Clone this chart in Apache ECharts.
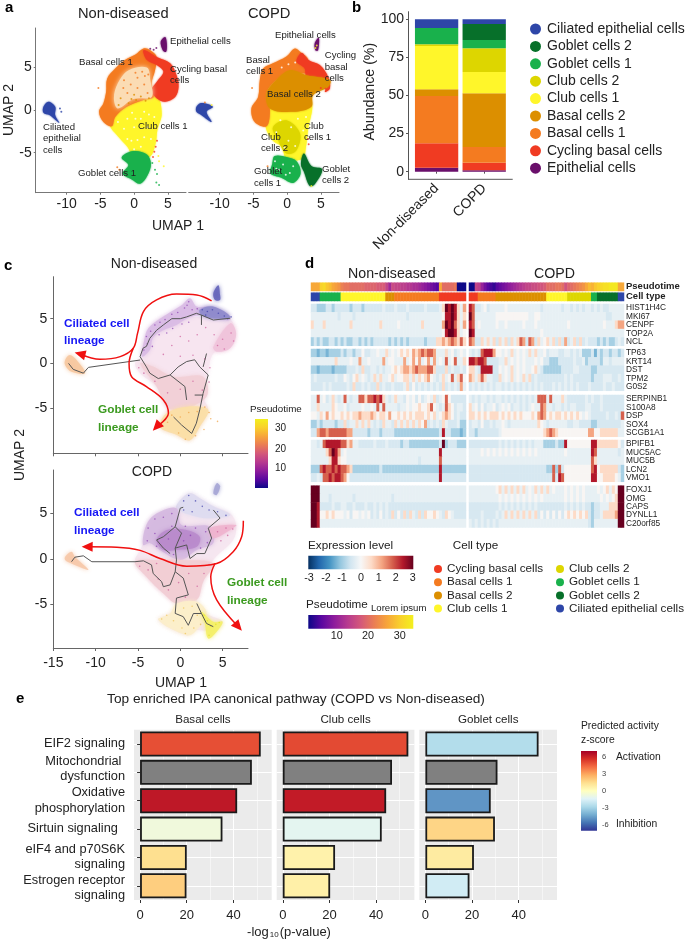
<!DOCTYPE html>
<html>
<head>
<meta charset="utf-8">
<style>html,body{margin:0;background:#fff}#main{width:685px;height:941px}</style>
<script src="https://cdn.jsdelivr.net/npm/echarts@6/dist/echarts.min.js"></script>
</head>
<body>
<div id="main"></div>
<script>
var ff = '"Liberation Sans", Arial, sans-serif';

// cell types, bottom of the stack first
var cellTypes = ['Epithelial cells', 'Cycling basal cells', 'Basal cells 1', 'Basal cells 2', 'Club cells 1', 'Club cells 2', 'Goblet cells 1', 'Goblet cells 2', 'Ciliated epithelial cells'];
var cellColors = ['#6a0f6b', '#f03b22', '#f47b20', '#dc8f00', '#fff62a', '#ddd600', '#19b14c', '#07702a', '#2e46a8'];

// panel b
var abundanceGroups = ['Non-diseased', 'COPD'];
var abundanceND = [2.6, 16, 31, 4.5, 28.4, 1.1, 10.7, 0, 5.7];
var abundanceCOPD = [0.9, 5, 10.3, 35.3, 14, 15.5, 5.5, 10.4, 3.1];

// panel a, cluster outlines in UMAP units
var aNDClusters = [
    [4, [[-3.6,-1.75],[-3.2,.4],[-1.1,1.2],[1.4,1.8],[3.35,1.8],[4.1,-.4],[3.45,-2.35],[3.2,-3.9],[2.3,-5.5],[-.1,-5.4],[-1,-4.3],[-2.3,-3.15]]],
    [6, [[-1.85,-5.55],[-.1,-4.8],[1.9,-5.2],[2.5,-6.3],[2,-7.65],[.9,-8.65],[-.35,-8.15],[-1.7,-7.45],[-.85,-6.45]]],
    [2, [[1.4,7.25],[.15,6.5],[-1.35,5.9],[-2.8,4.9],[-4,3.7],[-4.15,2.15],[-4.55,.8],[-5.2,-.2],[-4.55,-1.4],[-3.3,-1.9],[-2.8,-.8],[-1.1,.4],[1.4,1.2],[2.9,1.55],[2.6,3.15],[3.1,4.7],[3.35,6.25],[2.4,7.05]]],
    [1, [[1.4,7.05],[3.35,6.25],[5.35,5.5],[6.3,4.1],[6.6,2.75],[6.1,1.55],[4.6,1],[3.35,1.4],[2.6,2.35],[3.35,3.3],[4.35,4.5],[3.35,5.3],[1.9,5.9]]],
    [8, [[-13.45,.4],[-12.7,1],[-11.7,.4],[-11.7,-.6],[-11.1,-1.5],[-12.5,-.6],[-13.45,-.3]]],
    [0, [[3.95,8.05],[4.6,8.6],[4.85,7.85],[4.75,6.85],[4.25,7.05]]]
];
var aNDSparse = [[-2.4,3.2],[-.8,4.7],[1.9,5],[2.4,3.5],[2.6,1.55],[-.1,1.3],[-2.4,.2],[-3,1.4]];
var aCOPDClusters = [
    [4, [[-3.2,-1.9],[-2.9,.6],[.9,.8],[3.6,.9],[3.1,-2.35],[2.8,-4.3],[2.3,-5.7],[-.1,-5.7],[-.8,-4.3],[-2.2,-3.5]]],
    [5, [[-2.1,-2],[-.1,-1.2],[1.9,-2.7],[1.4,-4.7],[-.1,-5.1],[-1.35,-3.5]]],
    [6, [[-1.85,-5.4],[-.1,-5.5],[1.4,-6],[2,-7.45],[.9,-8.55],[-.85,-7.95],[-2.45,-7.45],[-2.2,-6.3]]],
    [7, [[2.5,-5.1],[3.6,-6.55],[5.2,-6.95],[4.1,-8.7],[3.35,-8.9],[2.5,-7.25],[2.05,-6.35]]],
    [2, [[1.15,7.25],[-.1,6.3],[-2.1,5.5],[-3.55,4.9],[-4.05,3.55],[-4.3,1.55],[-5.3,.2],[-4.8,-1.4],[-3.05,-1.9],[-2.55,0],[-3.05,2],[-1.6,3.55],[.4,4.4],[2.9,4.4],[3.15,5.9],[2.15,6.7]]],
    [1, [[2.15,6.7],[3.15,5.9],[4.85,5.3],[6.1,3.9],[6.35,2.55],[5.6,2.15],[6.1,3.35],[2.9,3.9],[2.6,4.9],[1.4,5.7]]],
    [3, [[-3.05,2],[-1.6,3.55],[.4,4.7],[2.9,4.1],[6.35,3.55],[6.1,2.75],[3.85,1.75],[3.6,.4],[.9,-.2],[-2.55,.2]]],
    [8, [[-13.45,.4],[-12.7,.85],[-11,.4],[-11.95,-.2],[-11.2,-1.4],[-12.7,-.6],[-13.45,-.2]]],
    [0, [[4.1,7.85],[4.7,8.5],[4.6,7.05],[4.2,7.05]]]
];
// single cells seen apart from the dense mass [x, y, type], type 9 is a gap
var aNDStray = [[-5.3,2.6,2],[3.4,-3.6,1],[3.2,-4.3,1],[3,-4.9,1],[2.8,-5.5,1],[3.6,-5.4,4],[3.7,-6,4],[4.4,-6.6,4],[3.4,-7.5,6],[3.3,-8.5,6],[3.7,-8.8,6],[3.1,-7,6],[2.7,-6.2,6],[-2.5,-6.7,2],[-2.2,-7,2],[2.4,7.2,0],[2.9,7.1,0],[3.3,7.3,0],[-11,.2,8],[-10.8,-.2,8],
    [-1.5,3.5,2],[-.5,3,2],[.5,3.8,2],[1.5,3,2],[2,2,2],[-1,2,2],[0,1.8,3],[1,1.6,3],[-2,1.4,3],[-2.3,.6,3],[.2,4.4,2],[1.2,4.5,2],[2.1,4.2,2],[-.8,.8,3],[.5,2.6,2],[1.6,4,2],[-1.6,2.6,2],[2.2,1.4,3],[.3,1.2,3],[-.4,1.3,3],[1.7,1.1,3],
    [-1,-1,9],[0,-2,9],[1,-1,9],[2,-2,9],[.5,-3.5,9],[1.5,-3.2,9],[-1.5,-2.2,9],[2.2,-.5,9],[-.3,-.3,9],[1,-4.3,9],[3,-.8,9],[-2.4,-1.4,9],[.2,-1,9],[1.5,-.2,9],[2.5,-3.4,9],[-.4,-3.6,9],[0,-4.6,9],[-1,-3.4,9]];
var aCOPDStray = [[-5.2,2.6,2],[3.2,-4,1],[3.1,-3.4,1],[5.7,2.5,1],[5,2.6,1],[4.4,7.6,4],[4.2,7.3,4],[-2.9,-6.6,2],[-12.2,.9,2],[-11.2,.6,4],[3.6,-8.9,4],
    [-1,-1.2,9],[.6,-2,9],[1.6,-1,9],[2.4,-2.4,9],[.2,-3.6,9],[1.2,-4.2,9],[-1.6,-2.6,9],[2.8,-.8,9],[-.4,-4.4,9],[-1.2,-7,9],[-.6,-6.4,9],[-1.8,-6,9],[.4,-7.4,9],[.9,-6.6,9],[-.2,-7.6,9],[-1.6,-6.9,9],[-.3,6,2],[1,6.5,2],[-2,5,2],[-3,4,2],[1.2,5.6,9],[-.8,5,9],[.2,5.4,9]];

// panel c, density zones in UMAP units [colour, points]
var cNDZones = [
    ['#f6e4ef', [[-4.3,2.4],[-2.4,5],[1.15,5.2],[5.9,4.85],[6.45,3.35],[5.9,1.85],[3.9,1.1],[3.3,-1.1],[2.7,-3.75],[3.3,-5.2],[2.3,-7.1],[1.15,-8.6],[-.45,-8],[-2.4,-7.1],[-1.6,-5.2],[-2.8,-2.6],[-4.75,-1.1],[-5.35,0],[-4.55,.75]]],
    ['#d9bbe4', [[1.15,7.3],[.15,6.5],[-.8,5.95],[-2.4,5],[-3.8,3.9],[-4.3,2.4],[-4.55,.75],[-3.6,1.5],[-3.2,2.9],[-2,3.7],[-.45,4.3],[.75,5],[2.3,5.4],[3.9,5.2],[5.9,4.85],[5.5,5.6],[3.5,6.35],[1.95,6.35]]],
    ['#8f8bcc', [[2.3,6],[3.9,6.35],[5.9,5.2],[3.9,5],[2.5,5.4]]],
    ['#efc3da', [[3.9,1.85],[5.9,4.5],[6.6,3.35],[5.9,1.7],[4.3,1.3]]],
    ['#f2cfd6', [[-4.75,0],[-3.2,-.35],[-.8,-1.5],[2.7,-1.5],[3.1,-3.75],[0,-5.2],[-1.6,-4.85],[-2.8,-2.6]]],
    ['#fbdfa6', [[-1.6,-5.6],[.75,-4.85],[3.3,-5.2],[2.3,-7.1],[1.15,-8.6],[-.45,-8],[-2.4,-7.1]]],
    ['#f6c8a0', [[-13.6,.37],[-13.05,.93],[-12.25,.37],[-11.25,-1.1],[-12.85,-.93],[-13.6,-.2]]],
    ['#6565ba', [[3.9,7.85],[4.5,8.75],[4.7,7.65],[4.7,7.1],[4.1,7.1]]]
];
var cCOPDZones = [
    ['#f5e6f0', [[1.15,7.25],[0,6.5],[-.45,5.6],[-2.8,5],[-4,3.75],[-4.55,1.35],[-5.35,-.3],[-4,-1.95],[-2,-3.8],[-.45,-4.9],[-1.2,-6],[-2.6,-6.7],[.75,-8.4],[1.75,-7.85],[3.9,-7.85],[5,-6.9],[3.1,-6],[1.95,-4.5],[2.7,-2.5],[3.9,-.1],[6.25,2.1],[6.6,3.75],[5.9,5],[3.9,5.8],[2.3,6.7]]],
    ['#dedbf0', [[1.15,7.25],[0,6.5],[-.45,5.6],[1.95,4.65],[3.9,4.5],[5.9,4.85],[3.9,5.8],[2.3,6.7]]],
    ['#d5b9e0', [[-4,3.75],[-2.8,5],[-.45,5.6],[.15,3.75],[3.5,3.55],[3.9,1.75],[1.95,1],[0,-.1],[-2.4,1],[-3.6,1.75],[-4.4,1.55]]],
    ['#b98bcc', [[-2.8,2.1],[-1.6,3.2],[.75,3.2],[2.3,2.45],[1.95,1.35],[-.45,1],[-2,1]]],
    ['#eeb4ce', [[3.5,3.4],[6.6,3.75],[5.9,3.2],[3.9,2.3]]],
    ['#f2cdd4', [[-5.35,-.3],[-4,-1.95],[-2,-3.8],[-.45,-4.9],[1.95,-4.5],[2.7,-2.5],[3.9,-.5],[0,-.1],[-2.8,-.1]]],
    ['#fceeca', [[-.45,-4.9],[1.95,-4.7],[3.1,-6],[1.75,-8],[.75,-8.4],[-2.6,-6.7],[-1.2,-6]]],
    ['#f4f068', [[2.5,-5.8],[3.9,-6.9],[5,-6.9],[4.3,-8],[3.3,-8.75],[2.9,-7.1]]],
    ['#f6c8a8', [[-13.6,.25],[-12.85,.8],[-12.45,.25],[-10.85,-1.2],[-12.85,-.5],[-13.6,-.1]]],
    ['#a5a5d5', [[4.3,8.35],[4.7,8],[4.3,7.05],[3.9,7.25]]]
];
// panel c, single cells [colour, points]
var cNDDots = [
    ['#8a3fb0', [[-4,3],[-3.5,3.6],[-3,4.3],[-2.4,4.6],[-1.8,4.9],[-1,5.5],[-.3,5.7],[.5,6.2],[1,6.9],[.8,6.5],[1.4,6],[2,6.1],[-4.3,1.5],[-3.9,2.2],[-3.3,1.9],[-2.5,3.2],[-1.6,3.4],[-.9,3.9],[.2,4.4],[1,4.6]]],
    ['#3c3ca8', [[2.6,6],[3.2,5.8],[3.8,6],[4.5,5.6],[5.2,5.3],[5.6,5],[6,5.2],[3,5.4]]],
    ['#cc5a98', [[0,3],[1,2.5],[2,3.2],[-1,2],[3,4],[4,3.2],[5,2.7],[6,3.4],[6.3,2.5],[5.2,1.6],[4.4,2],[-2,1],[0,.8],[1.5,.9],[2.9,.5],[3.5,-.5],[-4.9,-.5],[-4.3,-1.1],[-3,-2],[-1.5,-3.3],[0,-2.9],[1.5,-2],[2.6,-3],[3.4,-2.1]]],
    ['#f0a040', [[-2.3,-6.8],[-1.5,-6.6],[-1,-5.8],[0,-6],[1,-5.5],[2,-5.4],[2.9,-4.9],[3.4,-5.5],[4.4,-6.5],[3.6,-6.2],[2.8,-7.4],[1.8,-8.1],[.6,-8.5],[-.2,-7.8]]]
];
var cCOPDDots = [
    ['#3c3ca8', [[1,7],[.4,6.4],[1.8,6.4],[2.6,5.8],[3.4,5.4],[4.4,5.2],[5.4,4.8],[.4,5.4],[1.4,5.2]]],
    ['#8a3fb0', [[-3.8,3.4],[-3,4.4],[-2,4.6],[-1,5],[-3.9,2],[-3,2.8],[-1,3.6],[.6,3.6],[1.8,3.4],[3,3],[3.2,1.8],[2.4,1.2],[-.8,.5],[-2.8,1.4],[-1.4,2.2],[.4,2],[1.2,2.6]]],
    ['#cc5a98', [[4.4,3],[5.4,3.4],[6.2,3.3],[4.8,2],[5.6,2.6],[-4.8,-.8],[-3.8,-1.2],[-2.6,-2.2],[-1.4,-3.4],[-.2,-2.6],[1,-1.6],[2,-3],[2.8,-1.6],[3.4,-.6],[-2.8,-.5],[.6,-4.2]]],
    ['#f0c050', [[-2.2,-6.6],[-1.6,-6.2],[-.8,-6.8],[.2,-7.6],[.6,-8.2],[1.6,-7.6],[2.4,-7.2],[.4,-5.4],[1.4,-5.2],[2,-6.2]]],
    ['#e4e020', [[3.2,-6.8],[3.6,-7.4],[4.2,-7.2],[3.4,-8.4],[4.6,-7],[2.8,-6.2]]]
];

// panel c, trajectories
var cNDTraj = [
    [[2.5,4.3],[2.5,5.4],[1.9,5.6],[.75,5.2],[0,5],[-1,5],[-2,4.3],[-2.8,3.7],[-3.6,2.8],[-4,1.9],[-4.4,1.7],[-4.75,.75],[-4,-.4],[-3.6,-1.1],[-2.6,-1.7],[-1.2,-1.3],[-.25,-.4],[.75,.2],[1.7,.4],[2.3,-.4],[3.3,-1.3],[2.7,-3.35],[2.3,-5.2],[1.9,-6.7],[1.35,-7.85]],
    [[2.5,5.4],[3.9,4.85],[5.9,5.05]],
    [[-1.2,-1.3],[.55,-2.6],[.75,-4.1]],
    [[3.1,1.1],[2.7,-.4]],
    [[1.35,-7.85],[.15,-6.9],[-.8,-6]],
    [[2.7,-3.55],[1.7,-3.55]],
    [[-4.75,.37],[-10.85,-.45],[-11.45,-1.1],[-12.65,-.67],[-13.2,0]]
];
var cCOPDTraj = [
    [[-5.35,-.3],[-10.45,-.3],[-11.45,.35],[-12.45,.2],[-12.85,-.3]],
    [[-5.35,-.3],[-4.35,-.2],[-3.4,-.65],[-3.2,-1.6],[-2.2,-2.5],[-2,-3.05],[-1.2,-2.85],[-.6,-1.4],[.35,-2.1],[.95,-3.95],[-.45,-4.3],[-.6,-5.99],[.35,-6.35],[.95,-7.3],[1.55,-6],[2.5,-6],[1.95,-4.9]],
    [[-.6,-1.4],[-.45,-.1],[-.6,1.2],[.75,1.55],[1.15,.05],[1.95,.6],[2.9,.6],[3.7,2.3],[3.3,3.4],[4.7,4.5],[3.9,5.4]],
    [[-.6,1.2],[.15,2.85],[-.6,3.55],[-2,2.45],[-2.8,2.1],[-2,1.2],[-1.2,.6]],
    [[-.6,3.55],[0,5.6],[.35,5.7]],
    [[2.5,-6],[3.1,-7.1],[3.9,-7.45]]
];
var cNDArrows = [
    [[3.7,7],[1.95,7.65],[-.45,7.75],[-2.8,7.1],[-4.35,5.8],[-5.05,3.35],[-5.55,1.7],[-7.1,.75],[-9.5,.45],[-11.85,1.05]],
    [[-5.55,1.7],[-6.05,0],[-5.75,-1.5],[-4,-2.6],[-2,-4.1],[-1.4,-5.6],[-2.8,-7.1]]
];
var cCOPDArrows = [
    [[7.45,4.2],[7.25,2.45],[6.25,.8],[4.3,-.5],[.75,-.8],[-2.4,.05],[-4.75,.95],[-7.5,1.3],[-11,1.35]],
    [[4.1,-.5],[3.6,-1.95],[4.3,-4.5],[6.85,-7.45]]
];

// panel d, one digit per column on the levels below
var exprLevels = [-1.4, -1, -.5, -.25, .05, .6, 1.2, 1.8, 2.4, 3];
var geneGroups = [
    ['HIST1H4C', 'MKI67', 'CENPF', 'TOP2A', 'NCL'],
    ['TP63', 'KRT14', 'DST', 'TPM2', 'G0S2'],
    ['SERPINB1', 'S100A8', 'DSP', 'SOX4', 'SCGB1A1'],
    ['BPIFB1', 'MUC5AC', 'MUC5B', 'LCN2', 'VMO1'],
    ['FOXJ1', 'OMG', 'CAPS', 'DYNLL1', 'C20orf85']
];
var exprND = [
    ['2211122122 2221222122 2222322232 2232222232 2223598985 36',
     '3333333332 3333233333 3333333333 3323333333 3333488985 35',
     '5333533333 3335333333 3335333334 3333333533 3333698975 36',
     '3333333333 3333333333 3333333333 3333333333 3333489985 34',
     '1212112212 1211221212 1222221212 1212222212 2255656765 75'],
    ['1101101111 2122122422 3343353434 5454656767 7633353423 43',
     '3333333353 3334336334 3333634433 3634646346 3634373473 35',
     '1101111011 1122232522 3323233454 5665676667 7522252322 32',
     '2322222232 2432453432 3535334534 4553535456 4323534735 74',
     '2222323222 2232522323 2252322322 2352423232 3232523232 63'],
    ['3373423532 3732337757 7878532353 3243424234 3523474222 22',
     '3353333543 3423333433 4373733332 3343445445 7432375423 32',
     '4435464544 5454556555 6545546445 4545455545 4534565423 22',
     '1121222212 2523353535 3232533253 5353535462 3232532223 11',
     '2267767777 7766222221 2221222211 1111111111 1112822111 01'],
    ['3323788888 7756332222 2322232222 1221111111 1112912221 11',
     '3333357986 3433333333 3333333333 3333333333 3338333333 33',
     '3333335885 4433333333 3333333333 3333332333 3337333333 33',
     '1117877878 7765111111 1112111111 1111111111 1118111111 11',
     '2232778788 7642222222 2222222222 2222222222 2228222222 22'],
    ['9993333333 3333333333 3333333333 3333333333 3333333333 33',
     '9993332333 3333233333 3333333233 3333333333 3333333333 33',
     '9982222322 3322322232 2323232222 2222222222 2222222222 22',
     '9984454544 4342443434 2324232524 2525325254 4543254322 22',
     '9983333333 3333333333 3333333333 3333333333 3333333333 33']
];
var exprCOPD = [
    ['8722342333 3343333333 3333233333 3233232323 3232322333 33',
     '9733333334 4444444444 3344333333 3333333333 3333332233 33',
     '8734333334 3343333343 3343333333 3334333333 3333343335 66',
     '9833333333 3333333333 3333433333 3333333333 3333333333 33',
     '7622535352 5352535762 7625345352 5262352523 2221212112 32'],
    ['3232788864 4343534343 5353342333 2233232311 1202122122 12',
     '8878872222 3353434343 3343422111 2222232231 2222133233 33',
     '5532888822 4343534343 3453211111 1222233222 2112222222 22',
     '6535753322 5343534353 5232222222 2232322222 2122233322 32',
     '2323232323 3232323232 3232322232 3232323222 3222232232 22'],
    ['3232332323 3232323232 3237773733 3532222223 2322322222 22',
     '5342423342 3434233232 3433763323 3232332223 3222322222 22',
     '5545454555 4545454544 4546764545 5454545434 3222223223 27',
     '2332422323 3432333333 3335432333 3332233222 2112222222 23',
     '2212222222 3444444444 4444456765 4444444444 6644555555 33'],
    ['2222222222 3232323232 3233311112 1184444444 4885555555 42',
     '3333434343 4343434343 4343333333 3343333333 3873333333 23',
     '3333333333 3333333333 3333333333 3333333333 3753333333 33',
     '2222222222 2222222222 2222221171 7244444444 4784555555 21',
     '2222222222 2222222222 2222222272 8744444444 4884455554 31'],
    ['3333333334 5353535353 4353535343 3343434343 3334345354 99',
     '3333333333 4343434343 4343433333 3343434343 3333434345 99',
     '2222222222 3232323232 3232222222 2232323232 2122333555 99',
     '2222322223 2353535353 5352424242 4245454545 2122355556 99',
     '3232323232 3333333333 3333333333 3333333333 2133333333 99']
];
var pseudotimeND = [26,26,26,30,31,29,28,26,25,24,22,21,21,20,20,20,20,20,19,19,19,19,18,18,18,15,11,16,15,15,14,14,13,13,12,12,11,10,9,8,7,6,5,26,20,20,20,20,21,1,1,1];
var pseudotimeCOPD = [1,1,15,14,10,7,5,4,3,5,6,7,8,9,10,11,12,13,14,15,15,16,16,17,17,18,20,20,20,21,21,20,17,19,20,21,22,23,24,26,28,27,29,30,31,32,32,33,33,33,26,26];
// cell type index and number of columns
var cellRunsND = [[8,3],[6,7],[4,15],[3,3],[2,15],[1,9]];
var cellRunsCOPD = [[1,3],[2,6],[3,17],[4,7],[5,8],[6,2],[7,7],[8,2]];
var exprColors = ['#053061','#2166ac','#4393c3','#92c5de','#d1e5f0','#f7f7f7','#fddbc7','#f4a582','#d6604d','#b2182b','#67001f'];
var pseudoColors = ['#0d0887','#5a07a0','#8f1d9c','#b73a8f','#d4587a','#ea7d55','#f7a53a','#f9d02c','#f3f01e'];

// panel e
var pathways = ['EIF2 signaling', 'Mitochondrial \ndysfunction', 'Oxidative\nphosphorylation', 'Sirtuin signaling  ', 'eIF4 and p70S6K\nsignaling', 'Estrogen receptor\nsignaling'];
var pathwayLabelY = [743.3, 769, 800.3, 828.3, 857, 888];
var facets = ['Basal cells', 'Club cells', 'Goblet cells'];
var facetLog = [
    [51.7, 47.9, 41.6, 35.3, 20, 19.9],
    [53.8, 46.8, 44.3, 42.4, 22.4, 20.3],
    [48.5, 30.9, 28, 29.8, 20.8, 18.9]
];
// z-score, null = no prediction
var facetZ = [
    [4.9, null, 6.3, -.7, 1.4, 1.9],
    [5, null, 6.2, -1.2, .6, .7],
    [-2.6, null, -4.8, 1.7, .9, -1.8]
];
var zColors = ['#313695','#4575b4','#74add1','#abd9e9','#e0f3f8','#ffffbf','#fee090','#fdae61','#f46d43','#d73027','#a50026'];

var grids = [], xAxes = [], yAxes = [], series = [], graphics = [], visualMaps = [];

function addGrid(left, top, width, height, x, y, extra) {
    grids.push(Object.assign({left: left, top: top, width: width, height: height, containLabel: false}, extra || {}));
    var idx = grids.length - 1;
    xAxes.push(Object.assign({gridIndex: idx}, x));
    yAxes.push(Object.assign({gridIndex: idx}, y));
    return idx;
}

function txt(x, y, s, size, opt) {
    opt = opt || {};
    return {
        type: 'text', x: x, y: y, z: 50, rotation: opt.rotation || 0, silent: true,
        style: {
            text: s, fontSize: size, fontFamily: ff, fill: opt.fill || '#222', fontWeight: opt.weight || 'normal',
            align: opt.align || 'left', verticalAlign: 'middle', lineHeight: opt.lineHeight, rich: opt.rich
        }
    };
}

function colorbar(x, y, w, h, colors, vertical) {
    var stops = colors.map(function(c, i) { return {offset: i / (colors.length - 1), color: c}; });
    return {
        type: 'rect', z: 40, silent: true, shape: {x: x, y: y, width: w, height: h},
        style: {fill: vertical ? new echarts.graphic.LinearGradient(0, 1, 0, 0, stops) : new echarts.graphic.LinearGradient(0, 0, 1, 0, stops)}
    };
}

function valueAxis(min, max, ticks, fontSize, showLabel, color) {
    return {
        type: 'value', min: min, max: max, splitLine: {show: false},
        axisLine: {show: true, onZero: false, lineStyle: {color: color || '#777'}},
        axisTick: {show: true, length: 2, customValues: ticks, lineStyle: {color: color || '#777'}},
        axisLabel: {show: showLabel !== false, customValues: ticks, fontSize: fontSize, color: '#222', fontFamily: ff, margin: 4, hideOverlap: false}
    };
}

function blob(g, points, color, opacity, blur) {
    series.push({
        type: 'custom', coordinateSystem: 'cartesian2d', xAxisIndex: g, yAxisIndex: g, silent: true, clip: false,
        data: points, encode: {x: 0, y: 1}, z: 2,
        renderItem: function(params, api) {
            if (params.dataIndex !== 0) return;
            return {
                type: 'polygon',
                shape: {points: points.map(function(p) { return api.coord(p); }), smooth: 0.35},
                style: {fill: color, opacity: opacity, shadowBlur: blur, shadowColor: color}
            };
        }
    });
}

function pathLine(g, points, color, width, z, arrow) {
    var data = points.map(function(p) { return {value: p, symbol: 'none'}; });
    if (arrow) {
        var n = points.length;
        var a = Math.atan2(points[n - 1][1] - points[n - 2][1], points[n - 1][0] - points[n - 2][0]);
        data[n - 1] = {value: points[n - 1], symbol: 'triangle', symbolSize: [10, 11], symbolRotate: a * 180 / Math.PI - 90, itemStyle: {color: color}};
    }
    series.push({
        type: 'line', xAxisIndex: g, yAxisIndex: g, data: data, smooth: arrow ? 0.35 : false, showAllSymbol: true, silent: true, z: z,
        lineStyle: {color: color, width: width}, itemStyle: {color: color}, animation: false
    });
}

// ---- panel a
var strayColors = cellColors.concat('#ffffff');
function umapPanel(left, clusters, stray, showY, sparse) {
    var g = addGrid(left, 28, 150.3, 164.7,
        valueAxis(-14.6, 7.7, [-10, -5, 0, 5], 14),
        showY ? valueAxis(-9.7, 9.65, [-5, 0, 5], 14) : {type: 'value', min: -9.7, max: 9.65, show: false, splitLine: {show: false}});
    clusters.forEach(function(c) { blob(g, c[1], cellColors[c[0]], 1, 2); });
    if (sparse) blob(g, sparse, '#fbdcb4', 1, 5);
    series.push({
        type: 'scatter', xAxisIndex: g, yAxisIndex: g, symbolSize: 2, data: stray, silent: true, z: 3,
        itemStyle: {color: function(p) { return strayColors[p.value[2]]; }}
    });
}
umapPanel(35.7, aNDClusters, aNDStray, true, aNDSparse);
umapPanel(188.7, aCOPDClusters, aCOPDStray, false);

graphics.push(txt(5, 8, 'a', 15, {weight: 'bold', fill: '#000'}));
graphics.push(txt(78, 14, 'Non-diseased', 14.7));
graphics.push(txt(248, 14, 'COPD', 14.7));
graphics.push(txt(178, 226, 'UMAP 1', 14, {align: 'center'}));
graphics.push(txt(9, 110, 'UMAP 2', 14, {align: 'center', rotation: Math.PI / 2}));
[
    [170, 41.7, 'Epithelial cells'], [79, 62.7, 'Basal cells 1'], [170, 75, 'Cycling basal\ncells'],
    [43, 138.5, 'Ciliated\nepithelial\ncells'], [138, 126, 'Club cells 1'], [78, 173, 'Goblet cells 1'],
    [275, 35, 'Epithelial cells'], [324.7, 67, 'Cycling\nbasal\ncells'], [246, 66, 'Basal\ncells 1'],
    [267, 94, 'Basal cells 2'], [304, 132, 'Club\ncells 1'], [261, 143, 'Club\ncells 2'],
    [254, 177.5, 'Goblet\ncells 1'], [322, 175, 'Goblet\ncells 2']
].forEach(function(l) { graphics.push(txt(l[0], l[1], l[2], 9.6, {lineHeight: 11.6})); });

// ---- panel b
var bGrid = addGrid(412.8, 11.7, 95.2, 167.6,
    {
        type: 'category', data: abundanceGroups,
        axisLine: {show: false},
        axisTick: {show: true, length: 2, alignWithLabel: true, lineStyle: {color: '#555'}},
        axisLabel: {rotate: 45, fontSize: 14, color: '#222', fontFamily: ff, margin: 7, interval: 0}
    },
    (function() {
        var ax = valueAxis(-5, 105, [0, 25, 50, 75, 100], 14, true, '#555');
        ax.offset = 4.8;
        ax.axisLabel.padding = [0, 0, 12, 0];
        return ax;
    })());
cellTypes.forEach(function(name, i) {
    series.push({
        name: name, type: 'bar', xAxisIndex: bGrid, yAxisIndex: bGrid, stack: 'abundance', barWidth: 43.3, silent: true,
        itemStyle: {color: cellColors[i]},
        data: [abundanceND[i], abundanceCOPD[i]]
    });
});
graphics.push({type: 'line', z: 40, silent: true, shape: {x1: 408, y1: 179.3, x2: 512.7, y2: 179.3}, style: {stroke: '#555', lineWidth: 1}});
graphics.push(txt(352, 8, 'b', 15, {weight: 'bold', fill: '#000'}));
graphics.push(txt(370, 91.7, 'Abundance (%)', 14.2, {align: 'center', rotation: Math.PI / 2}));

// ---- panel c
function pseudoPanel(top, height, yMin, yMax, zones, dots, traj, arrows, showLabels) {
    var g = addGrid(53.3, top, 194.7, height,
        valueAxis(-15, 8, [-15, -10, -5, 0, 5], 14, showLabels, '#666'),
        valueAxis(yMin, yMax, [-5, 0, 5], 14, true, '#666'));
    xAxes[g].axisTick.length = 3;
    yAxes[g].axisTick.length = 3;
    yAxes[g].axisLabel.margin = 6;
    xAxes[g].axisLabel.margin = 8;
    zones.forEach(function(z) { blob(g, z[1], z[0], 0.9, 4); });
    dots.forEach(function(d) {
        series.push({
            type: 'scatter', xAxisIndex: g, yAxisIndex: g, symbolSize: 1.6, data: d[1], silent: true, z: 3,
            itemStyle: {color: d[0], opacity: .7}
        });
    });
    traj.forEach(function(t) { pathLine(g, t, '#555', 1, 4); });
    arrows.forEach(function(a) { pathLine(g, a, '#f01010', 1.5, 6, true); });
}
pseudoPanel(276.7, 176.6, -10.07, 9.7, cNDZones, cNDDots, cNDTraj, cNDArrows, false);
pseudoPanel(470, 178, -9.8, 9.8, cCOPDZones, cCOPDDots, cCOPDTraj, cCOPDArrows, true);

graphics.push(txt(4, 266, 'c', 15, {weight: 'bold', fill: '#000'}));
graphics.push(txt(154, 264, 'Non-diseased', 14, {align: 'center'}));
graphics.push(txt(152, 472, 'COPD', 14, {align: 'center'}));
graphics.push(txt(181, 683, 'UMAP 1', 14, {align: 'center'}));
graphics.push(txt(20, 455, 'UMAP 2', 14, {align: 'center', rotation: Math.PI / 2}));
graphics.push(txt(64, 332, 'Ciliated cell\nlineage', 11.8, {weight: 'bold', fill: '#1616f5', lineHeight: 17.5}));
graphics.push(txt(98, 418.5, 'Goblet cell\nlineage', 11.8, {weight: 'bold', fill: '#3b9a1f', lineHeight: 17.5}));
graphics.push(txt(74, 521.5, 'Ciliated cell\nlineage', 11.8, {weight: 'bold', fill: '#1616f5', lineHeight: 17.5}));
graphics.push(txt(227, 591.5, 'Goblet cell\nlineage', 11.8, {weight: 'bold', fill: '#3b9a1f', lineHeight: 17.5}));
graphics.push(txt(250, 409, 'Pseudotime', 9.8));
graphics.push(colorbar(255, 419, 13, 69, pseudoColors, true));
graphics.push(txt(275, 428, '30', 10));
graphics.push(txt(275, 449, '20', 10));
graphics.push(txt(275, 468, '10', 10));

// ---- panel d
var heatCols = [];
for (var c = 0; c < 105; c++) heatCols.push(c);

function heatAxes(labels, fontSize, weight) {
    return {
        x: {type: 'category', data: heatCols, show: false},
        y: {
            type: 'category', data: labels, inverse: true, position: 'right',
            axisLine: {show: false}, axisTick: {show: false}, splitLine: {show: false},
            axisLabel: {fontSize: fontSize, fontWeight: weight || 'normal', color: '#222', fontFamily: ff, margin: 2, interval: 0}
        }
    };
}

function parseRow(s) {
    return s.replace(/ /g, '').split('').map(function(d) { return exprLevels[+d]; });
}

var heatTops = [304, 349, 395, 440, 485.7];
var exprSeries = [];
geneGroups.forEach(function(genes, gi) {
    var ax = heatAxes(genes, 8.3);
    var g = addGrid(311, heatTops[gi], 313, 41.8, ax.x, ax.y);
    var cells = [];
    genes.forEach(function(gene, r) {
        parseRow(exprND[gi][r]).forEach(function(v, i) { cells.push([i, r, v]); });
        parseRow(exprCOPD[gi][r]).forEach(function(v, i) { cells.push([i + 53, r, v]); });
    });
    series.push({type: 'heatmap', xAxisIndex: g, yAxisIndex: g, data: cells, silent: true});
    exprSeries.push(series.length - 1);
});
visualMaps.push({show: false, min: -3, max: 3, dimension: 2, seriesIndex: exprSeries, inRange: {color: exprColors}});

// annotation tracks
var ptCells = [];
pseudotimeND.forEach(function(v, i) { ptCells.push([i, 0, v]); });
pseudotimeCOPD.forEach(function(v, i) { ptCells.push([i + 53, 0, v]); });
var ptAx = heatAxes(['Pseudotime'], 9.5, 'bold');
var ptGrid = addGrid(311, 282.7, 313, 8.3, ptAx.x, ptAx.y);
series.push({type: 'heatmap', xAxisIndex: ptGrid, yAxisIndex: ptGrid, data: ptCells, silent: true});
visualMaps.push({show: false, min: 1, max: 34, dimension: 2, seriesIndex: series.length - 1, inRange: {color: pseudoColors}});

var ctCells = [];
function pushRuns(runs, offset) {
    var at = offset;
    runs.forEach(function(r) {
        for (var k = 0; k < r[1]; k++) ctCells.push([at++, 0, r[0]]);
    });
}
pushRuns(cellRunsND, 0);
pushRuns(cellRunsCOPD, 53);
var ctAx = heatAxes(['Cell type'], 9.5, 'bold');
var ctGrid = addGrid(311, 292.7, 313, 8.3, ctAx.x, ctAx.y);
series.push({type: 'heatmap', xAxisIndex: ctGrid, yAxisIndex: ctGrid, data: ctCells, silent: true});
visualMaps.push({
    type: 'piecewise', show: false, dimension: 2, seriesIndex: series.length - 1,
    pieces: cellColors.map(function(col, i) { return {value: i, color: col}; })
});

graphics.push(txt(305, 264, 'd', 15, {weight: 'bold', fill: '#000'}));
graphics.push(txt(348, 274.5, 'Non-diseased', 14.2));
graphics.push(txt(534, 274.5, 'COPD', 14.2));

graphics.push(txt(308, 545.7, 'Expression level', 11.7));
graphics.push(colorbar(308.3, 555.7, 105, 13.6, exprColors));
['-3', '-2', '-1', '0', '1', '2', '3'].forEach(function(l, i) {
    graphics.push(txt([309, 326, 342, 361, 378.7, 395.7, 412.7][i], 577.7, l, 10.8, {align: 'center'}));
});
graphics.push(txt(306, 604.7, 'Pseudotime', 11.7));
graphics.push(txt(371, 608, 'Lorem ipsum', 9.6));
graphics.push(colorbar(308.3, 615, 105, 13.7, pseudoColors));
[[336.7, '10'], [368, '20'], [399.7, '30']].forEach(function(l) {
    graphics.push(txt(l[0], 636.5, l[1], 10.8, {align: 'center'}));
});
graphics.push(txt(452.7, 545.7, 'Cell type', 11.7));

// ---- panel e
facets.forEach(function(f, i) {
    var left = [134, 276.7, 419.3][i];
    var x = valueAxis(-2.6, 56.4, [0, 20, 40], 13, true, '#333');
    x.axisLine = {show: false};
    x.axisTick.length = 3;
    x.axisLabel.margin = 9;
    x.splitLine = {show: true, lineStyle: {color: '#fff', width: 1}};
    var y = {
        type: 'category', data: pathways, inverse: true, splitLine: {show: true, alignWithLabel: true, lineStyle: {color: '#fff', width: 1}},
        axisLine: {show: false},
        axisTick: {show: i === 0, length: 3, alignWithLabel: true, lineStyle: {color: '#333'}},
        axisLabel: {show: false}
    };
    var g = addGrid(left, 729.8, 137.7, 170.2, x, y, {show: true, backgroundColor: '#ebebeb', borderWidth: 0});
    series.push({
        type: 'bar', xAxisIndex: g, yAxisIndex: g, barWidth: 25, silent: true, z: 3,
        data: facetLog[i].map(function(v, k) {
            var z = facetZ[i][k];
            return {
                value: v,
                itemStyle: {color: z === null ? '#808080' : echarts.color.lerp((z + 7) / 14, zColors), borderColor: '#1a1a1a', borderWidth: 1.8}
            };
        }),
        markLine: {
            silent: true, symbol: 'none', z: 1, label: {show: false}, animation: false,
            lineStyle: {color: '#fff', width: .5, type: 'solid'},
            data: [{xAxis: 10}, {xAxis: 30}, {xAxis: 50}]
        }
    });
    graphics.push(txt(left + 68.9, 720, f, 11.6, {align: 'center'}));
});
pathways.forEach(function(p, i) {
    graphics.push(txt(125, pathwayLabelY[i], p, 12.8, {align: 'right', lineHeight: 15.6}));
});
graphics.push(txt(16, 699, 'e', 15, {weight: 'bold', fill: '#000'}));
graphics.push(txt(296, 699.3, 'Top enriched IPA canonical pathway (COPD vs Non-diseased)', 13.7, {align: 'center'}));
graphics.push(txt(289, 932, '{a|-log}{s|10}{a|(p-value)}', 13, {
    align: 'center',
    rich: {a: {fontSize: 13, fontFamily: ff, fill: '#222'}, s: {fontSize: 8, fontFamily: ff, fill: '#222', verticalAlign: 'bottom', padding: [0, 1, 0, 1]}}
}));
graphics.push(txt(581, 733, 'Predicted activity\nz-score', 10.3, {lineHeight: 14.5}));
graphics.push(colorbar(581, 751, 16, 79.7, zColors, true));
[[757, '6'], [774, '3'], [791, '0'], [808, '-3'], [825, '-6']].forEach(function(l) {
    graphics.push(txt(602, l[0], l[1], 7.5, {fill: '#444'}));
});
graphics.push(txt(616, 757, 'Activation', 10.3));
graphics.push(txt(616, 824, 'Inhibition', 10.3));

function legendOpt(names, left, top, size, gap) {
    return {
        data: names, orient: 'vertical', left: left, top: top, icon: 'circle', itemWidth: size.icon, itemHeight: size.icon,
        itemGap: gap, padding: 0, selectedMode: false,
        textStyle: {fontSize: size.font, color: '#222', fontFamily: ff, padding: [0, 0, 0, size.pad]}
    };
}

var chart = echarts.init(document.getElementById('main'), null, {renderer: 'canvas'});
chart.setOption({
    animation: false,
    backgroundColor: '#fff',
    textStyle: {fontFamily: ff},
    grid: grids,
    xAxis: xAxes,
    yAxis: yAxes,
    visualMap: visualMaps,
    legend: [
        legendOpt(cellTypes.slice().reverse(), 530, 22, {icon: 11, font: 14, pad: 1}, 3.4),
        legendOpt(['Cycling basal cells', 'Basal cells 1', 'Basal cells 2', 'Club cells 1'], 434, 563, {icon: 8, font: 11.7, pad: 0}, 1.2),
        legendOpt(['Club cells 2', 'Goblet cells 1', 'Goblet cells 2', 'Ciliated epithelial cells'], 556, 563, {icon: 8, font: 11.7, pad: 0}, 1.2)
    ],
    graphic: {elements: graphics},
    series: series
});
</script>
</body>
</html>
